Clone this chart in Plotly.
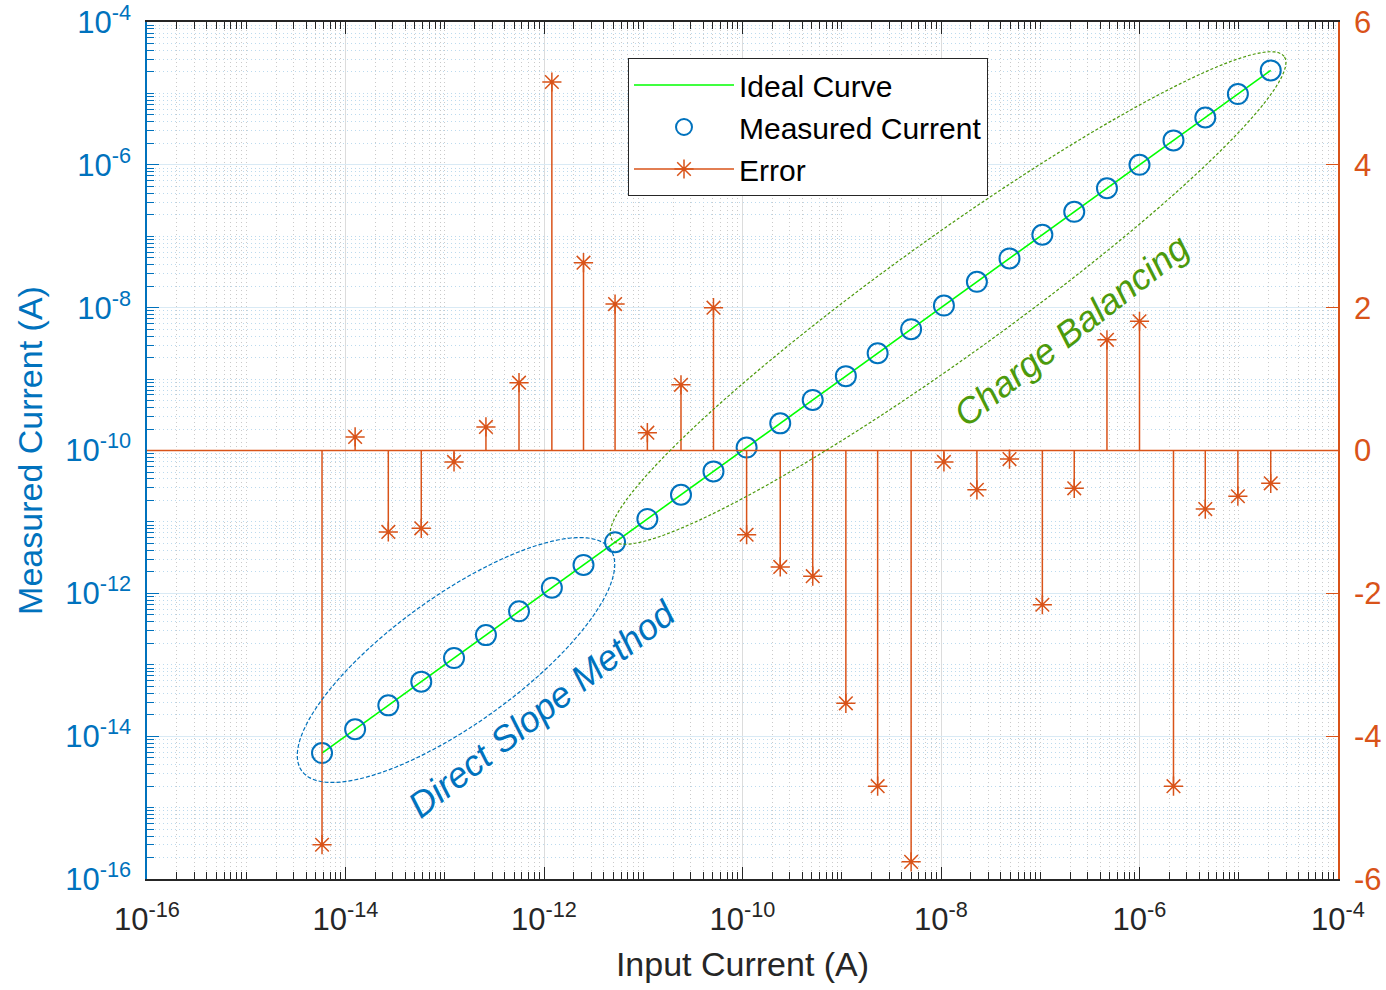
import math
import plotly.graph_objects as go

# ---------------- data ----------------
input_current = [5.8e-15, 1.25e-14, 2.7e-14, 5.8e-14, 1.24e-13, 2.6e-13, 5.6e-13, 1.2e-12, 2.5e-12, 5.2e-12,
                 1.1e-11, 2.4e-11, 5.1e-11, 1.1e-10, 2.4e-10, 5.1e-10, 1.1e-9, 2.3e-9, 5.0e-9, 1.07e-8,
                 2.3e-8, 4.9e-8, 1.05e-7, 2.2e-7, 4.7e-7, 1.0e-6, 2.2e-6, 4.6e-6, 9.8e-6, 2.1e-5]
ideal_current = list(input_current)
measured_current = [5.8e-15, 1.25e-14, 2.7e-14, 5.8e-14, 1.24e-13, 2.6e-13, 5.6e-13, 1.2e-12, 2.5e-12, 5.2e-12,
                    1.1e-11, 2.4e-11, 5.1e-11, 1.1e-10, 2.4e-10, 5.1e-10, 1.1e-9, 2.3e-9, 5.0e-9, 1.07e-8,
                    2.3e-8, 4.9e-8, 1.05e-7, 2.2e-7, 4.7e-7, 1.0e-6, 2.2e-6, 4.6e-6, 9.8e-6, 2.1e-5]
error_pct = [-5.52, 0.19, -1.14, -1.09, -0.16, 0.33, 0.95, 5.16, 2.63, 2.05,
             0.25, 0.92, 2.00, -1.18, -1.63, -1.76, -3.54, -4.70, -5.76, -0.16,
             -0.55, -0.12, -2.16, -0.53, 1.55, 1.81, -4.70, -0.82, -0.64, -0.46]

log_tick_exps = [-16, -14, -12, -10, -8, -6, -4]
log_tick_text = ["10<sup>%d</sup>" % e for e in log_tick_exps]
right_ticks = [-6, -4, -2, 0, 2, 4, 6]
right_tick_text = ["%d" % v for v in right_ticks]

# ---------------- styles ----------------
BLUE = "#0072BD"
ORANGE = "#D95319"
GREEN_LINE = "#00FF00"
GREEN_TXT = "#4C9A0C"
DARK = "#262626"
FONT = "Liberation Sans, Arial, Helvetica, sans-serif"

W, H = 1386, 990
L, R, T, B = 147, 48, 22, 111
PW, PH = W - L - R, H - T - B


def px2paper(x, y):
    return (x - L) / PW, (H - B - y) / PH


def ellipse_path(cx, cy, a, b, ang_deg, n=120):
    th = math.radians(ang_deg)
    pts = []
    for i in range(n + 1):
        t = 2 * math.pi * i / n
        ex, ey = a * math.cos(t), b * math.sin(t)
        x = cx + ex * math.cos(th) - ey * math.sin(th)
        y = cy - (ex * math.sin(th) + ey * math.cos(th))
        px, py = px2paper(x, y)
        pts.append("%.5f,%.5f" % (px, py))
    return "M " + " L ".join(pts) + " Z"


major_vals = [10.0 ** e for e in log_tick_exps]
minor_vals = []
for d in range(-16, -4):
    for k in range(2, 11):
        v = k * 10.0 ** d
        if not (k == 10 and (d + 1) in log_tick_exps):
            minor_vals.append(v)

fig = go.Figure()

# stems (error) on right axis
xs, ys = [], []
for xv, ev in zip(input_current, error_pct):
    xs += [xv, xv, None]
    ys += [0, ev, None]

fig.add_trace(go.Scatter(x=input_current, y=ideal_current, mode="lines", name="Ideal Curve",
                         line=dict(color=GREEN_LINE, width=1.6), yaxis="y"))
fig.add_trace(go.Scatter(x=input_current, y=measured_current, mode="markers", name="Measured Current",
                         marker=dict(symbol="circle-open", size=20, color=BLUE, line=dict(width=2, color=BLUE)),
                         yaxis="y"))
fig.add_trace(go.Scatter(x=xs, y=ys, mode="lines", showlegend=False,
                         line=dict(color=ORANGE, width=1.5), yaxis="y2", hoverinfo="skip"))
fig.add_trace(go.Scatter(x=input_current, y=error_pct, mode="markers", showlegend=False,
                         marker=dict(symbol="asterisk-open", size=16, color=ORANGE,
                                     line=dict(width=1.5, color=ORANGE)), yaxis="y2"))
fig.add_trace(go.Scatter(x=[None], y=[None], mode="lines+markers", name="Error",
                         line=dict(color=ORANGE, width=1.5),
                         marker=dict(symbol="asterisk-open", size=16, color=ORANGE,
                                     line=dict(width=1.5, color=ORANGE)), yaxis="y2"))

shapes = [
    dict(type="line", xref="paper", x0=0, x1=1, yref="y2", y0=0, y1=0,
         line=dict(color=ORANGE, width=1.5), layer="above"),
    dict(type="path", xref="paper", yref="paper", path=ellipse_path(456, 660, 190, 64, 35.7),
         line=dict(color=BLUE, width=1.2, dash="4px,2px")),
    dict(type="path", xref="paper", yref="paper", path=ellipse_path(948, 298, 414, 59, 35.7),
         line=dict(color=GREEN_TXT, width=1.2, dash="3px,2px")),
]

ax1, ay1 = px2paper(541, 709)
ax2, ay2 = px2paper(1071, 330)
annotations = [
    dict(xref="paper", yref="paper", x=ax1, y=ay1, text="<i>Direct Slope Method</i>", showarrow=False,
         textangle=-38, font=dict(family=FONT, size=36, color=BLUE), xanchor="center", yanchor="middle"),
    dict(xref="paper", yref="paper", x=ax2, y=ay2, text="<i>Charge Balancing</i>", showarrow=False,
         textangle=-38, font=dict(family=FONT, size=36, color=GREEN_TXT), xanchor="center", yanchor="middle"),
]

lx, ly = px2paper(628, 58)

fig.update_layout(
    width=W, height=H,
    margin=dict(l=L, r=R, t=T, b=B, autoexpand=False),
    paper_bgcolor="white", plot_bgcolor="white",
    font=dict(family=FONT, size=30, color=DARK),
    showlegend=True,
    legend=dict(x=lx, y=ly, xanchor="left", yanchor="top", bgcolor="white",
                bordercolor=DARK, borderwidth=1, font=dict(size=30, color="black"),
                itemwidth=100, tracegroupgap=0),
    shapes=shapes,
    annotations=annotations,
    xaxis=dict(type="log", range=[-16, -4], tickmode="array", tickvals=major_vals, ticktext=log_tick_text,
               ticks="inside", ticklen=12, tickwidth=1, tickcolor=DARK, automargin=False,
               showline=True, linecolor=DARK, linewidth=1.5, mirror="ticks",
               showgrid=True, gridcolor="#DCDCDC", gridwidth=1, ticklabelstandoff=12,
               ticklabeloverflow="allow",
               tickfont=dict(size=31, color=DARK), zeroline=False,
               title=dict(text="Input Current (A)", font=dict(size=34, color=DARK), standoff=16),
               minor=dict(tickmode="array", tickvals=minor_vals, ticks="inside", ticklen=7, tickcolor=DARK,
                          showgrid=True, gridcolor="#CACACA", griddash="1px,3px", gridwidth=1)),
    yaxis=dict(type="log", range=[-16, -4], tickmode="array", tickvals=major_vals, ticktext=log_tick_text,
               ticks="inside", ticklen=12, tickwidth=1, tickcolor=BLUE, automargin=False,
               showline=True, linecolor=BLUE, linewidth=1.5, mirror=False,
               showgrid=True, gridcolor="#D9EAF5", gridwidth=1, ticklabelstandoff=8,
               ticklabeloverflow="allow",
               tickfont=dict(size=31, color=BLUE), zeroline=False,
               title=dict(text="Measured Current (A)", font=dict(size=34, color=BLUE), standoff=12),
               minor=dict(tickmode="array", tickvals=minor_vals, ticks="inside", ticklen=7, tickcolor=BLUE,
                          showgrid=True, gridcolor="#BCDAEE", griddash="1px,3px", gridwidth=1)),
    yaxis2=dict(overlaying="y", side="right", range=[-6, 6], tickmode="array", tickvals=right_ticks,
                ticktext=right_tick_text, automargin=False, ticklabeloverflow="allow",
                ticks="inside", ticklen=12, tickwidth=1, tickcolor=ORANGE,
                showline=True, linecolor=ORANGE, linewidth=1.5, ticklabelstandoff=8,
                showgrid=False, zeroline=False,
                tickfont=dict(size=31, color=ORANGE)),
)

fig.write_html("out.html")
